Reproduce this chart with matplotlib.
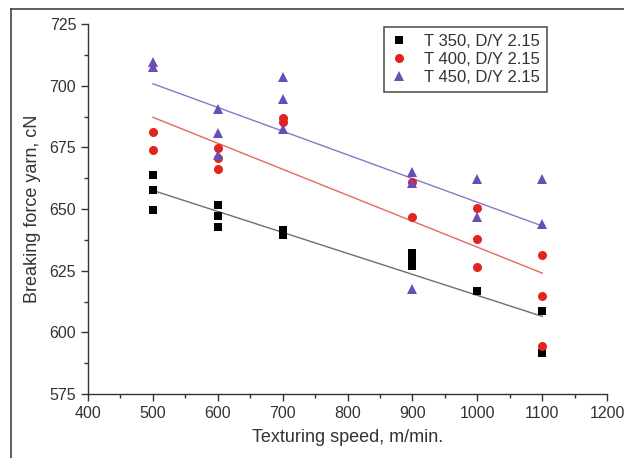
import numpy as np
import matplotlib
matplotlib.use("Agg")
import matplotlib.pyplot as plt
from matplotlib.lines import Line2D
from matplotlib.ticker import MultipleLocator

plt.rcParams['font.family'] = ['Liberation Sans', 'DejaVu Sans']

# Data
x350 = [500, 500, 500, 600, 600, 600, 700, 700, 900, 900, 900, 1000, 1100, 1100]
y350 = [663.8, 657.7, 649.4, 651.7, 647.0, 642.9, 641.5, 639.5, 632.2, 629.4, 626.7, 616.9, 608.8, 591.6]

x400 = [500, 500, 600, 600, 600, 700, 700, 900, 900, 1000, 1000, 1000, 1100, 1100, 1100]
y400 = [681.1, 674.0, 674.9, 670.8, 666.1, 686.8, 685.4, 661.1, 646.9, 650.3, 637.8, 626.4, 631.4, 614.8, 594.5]

x450 = [500, 500, 600, 600, 600, 700, 700, 700, 900, 900, 900, 1000, 1000, 1100, 1100]
y450 = [709.7, 707.7, 690.4, 680.7, 671.9, 703.4, 694.5, 682.3, 665.2, 660.5, 617.5, 662.0, 646.8, 662.0, 644.0]

labels = ['T 350, D/Y 2.15', 'T 400, D/Y 2.15', 'T 450, D/Y 2.15']

fig = plt.figure(figsize=(6.24, 4.58), dpi=100)
ax = fig.add_axes([0.141, 0.1397, 0.832, 0.8079])

series = [
    (x350, y350, 's', '#000000', '#6e6e6e', 5.5, labels[0]),
    (x400, y400, 'o', '#e3231f', '#e06a5c', 6.5, labels[1]),
    (x450, y450, '^', '#6a4db5', '#8878c8', 7.0, labels[2]),
]
for xs, ys, m, c, lc, ms, lab in series:
    xs = np.array(xs, float); ys = np.array(ys, float)
    ax.plot(xs, ys, linestyle='none', marker=m, color=c, markersize=ms,
            markeredgewidth=0, label=lab, zorder=3)
    k, b = np.polyfit(xs, ys, 1)
    xl = np.array([xs.min(), xs.max()])
    ax.plot(xl, k * xl + b, color=lc, linewidth=1.0, zorder=2)

ax.set_xlim(400, 1200)
ax.set_ylim(575, 725)
ax.xaxis.set_major_locator(MultipleLocator(100))
ax.xaxis.set_minor_locator(MultipleLocator(50))
ax.yaxis.set_major_locator(MultipleLocator(25))
ax.yaxis.set_minor_locator(MultipleLocator(12.5))
for s in ['top', 'right']:
    ax.spines[s].set_visible(False)
for s in ['left', 'bottom']:
    ax.spines[s].set_color('#333333')
    ax.spines[s].set_linewidth(1.0)
ax.tick_params(which='major', direction='out', length=5, width=1.0, colors='#333333',
               labelsize=11.5, labelcolor='#333333')
ax.tick_params(which='minor', direction='out', length=3, width=1.0, colors='#333333')

ax.set_xlabel('Texturing speed, m/min.', fontsize=13, color='#333333', labelpad=6)
ax.set_ylabel('Breaking force yarn, cN', fontsize=13, color='#333333', labelpad=6)

leg = ax.legend(loc='upper right', bbox_to_anchor=(0.884, 0.992), fontsize=12,
                frameon=True, fancybox=False, edgecolor='#555555', framealpha=1,
                handletextpad=1.0, borderpad=0.4, labelspacing=0.2,
                handlelength=1.0, borderaxespad=0)
leg.get_frame().set_linewidth(1.2)
for t in leg.get_texts():
    t.set_color('#333333')

# figure border lines (top and left)
fig.add_artist(Line2D([11 / 624, 1.0], [1 - 9 / 458, 1 - 9 / 458], color='#444444', linewidth=1.2))
fig.add_artist(Line2D([11 / 624, 11 / 624], [0.0, 1 - 9 / 458], color='#444444', linewidth=1.2))

fig.savefig('out.png', dpi=100)
